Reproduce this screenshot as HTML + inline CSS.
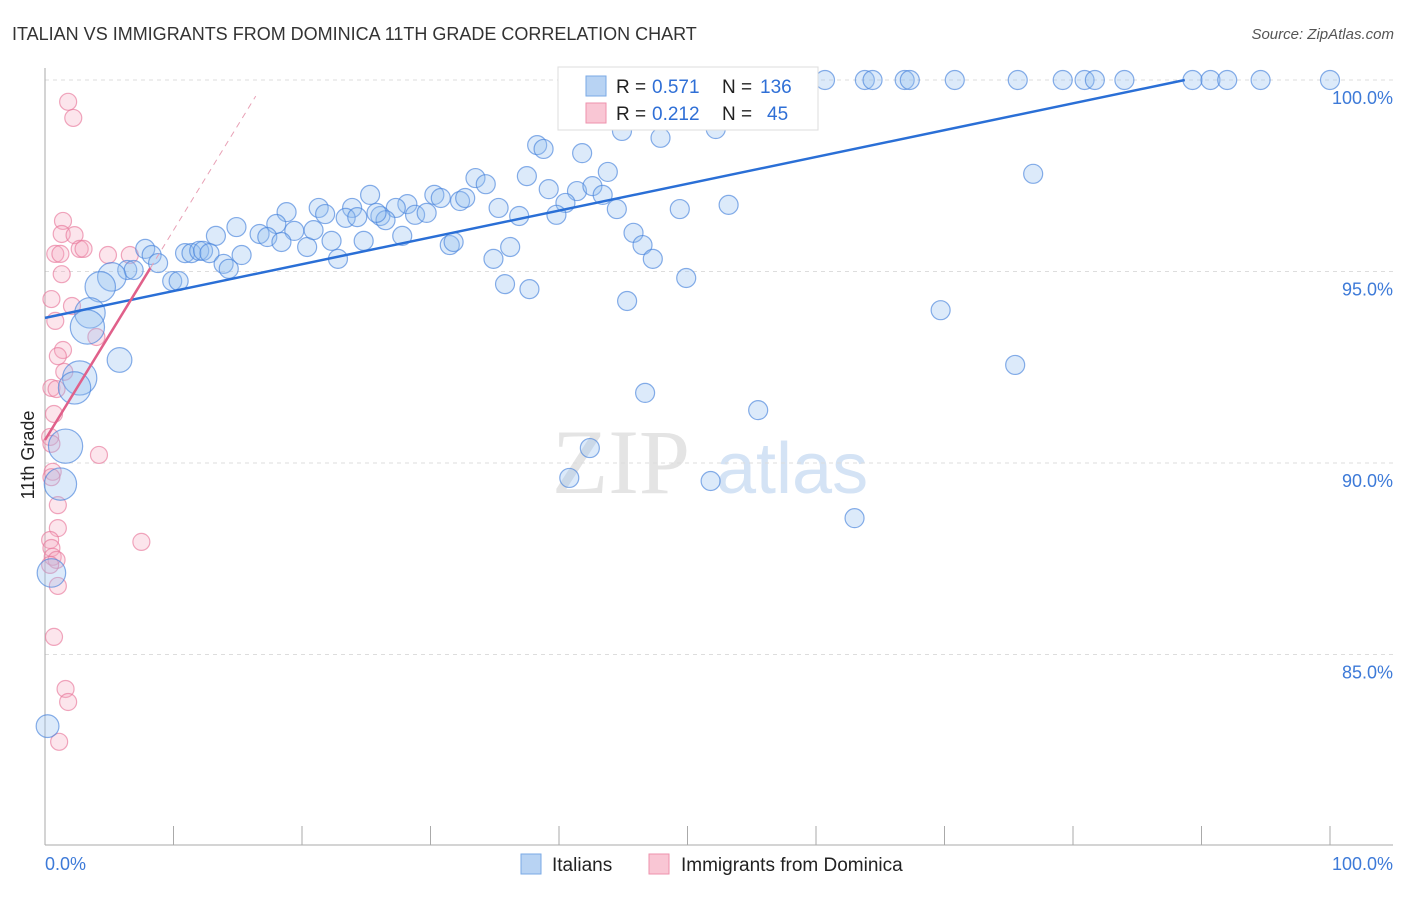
<!DOCTYPE html>
<html><head><meta charset="utf-8"><style>
body{margin:0;background:#fff;font-family:"Liberation Sans",sans-serif}
svg text{font-family:"Liberation Sans",sans-serif}
</style></head><body>
<svg width="1406" height="892" xmlns="http://www.w3.org/2000/svg">
<text x="12" y="40" font-size="18" fill="#333">ITALIAN VS IMMIGRANTS FROM DOMINICA 11TH GRADE CORRELATION CHART</text>
<text x="1394" y="39" font-size="15" fill="#555" font-style="italic" text-anchor="end">Source: ZipAtlas.com</text>
<text x="34" y="455" font-size="18" fill="#222" transform="rotate(-90 34 455)" text-anchor="middle">11th Grade</text>
<g>
<text x="552" y="493" font-size="92" fill="#e4e4e4" font-family="Liberation Serif" style="font-family:'Liberation Serif',serif">ZIP</text>
<text x="716" y="493" font-size="72" fill="#d4e3f5">atlas</text>
</g>
<g id="grid"></g>
<g id="axes"></g>
<g id="pink"></g>
<g id="blue"></g>
<g id="lines"></g>
<g>
<rect x="558" y="67" width="260" height="63" fill="#fff" stroke="#ddd"/>
<rect x="586" y="76" width="20" height="20" fill="#b8d3f3" stroke="#7aa9e6"/>
<rect x="586" y="103" width="20" height="20" fill="#f9c6d4" stroke="#ee92ad"/>
<text x="616" y="93" font-size="19" fill="#222">R =</text>
<text x="652" y="93" font-size="19" fill="#2f6fd6">0.571</text>
<text x="722" y="93" font-size="19" fill="#222">N =</text>
<text x="760" y="93" font-size="19" fill="#2f6fd6">136</text>
<text x="616" y="120" font-size="19" fill="#222">R =</text>
<text x="652" y="120" font-size="19" fill="#2f6fd6">0.212</text>
<text x="722" y="120" font-size="19" fill="#222">N =</text>
<text x="767" y="120" font-size="19" fill="#2f6fd6">45</text>
</g>
<g>
<rect x="521" y="854" width="20" height="20" fill="#b8d3f3" stroke="#7aa9e6"/>
<text x="552" y="871" font-size="19" fill="#222">Italians</text>
<rect x="649" y="854" width="20" height="20" fill="#f9c6d4" stroke="#ee92ad"/>
<text x="681" y="871" font-size="19" fill="#222">Immigrants from Dominica</text>
</g>
</svg>
<script>
const yTicks=[100,95,90,85];
const yTickLabels=["100.0%","95.0%","90.0%","85.0%"];
const xTickLabels=["0.0%","100.0%"];
const blueX=[51.0,53.3,55.6,56.8,58.8,60.7,63.8,64.4,66.9,67.3,70.8,75.7,79.2,80.9,81.7,84.0,89.3,90.7,92.0,94.6,100,
44.9,47.9,52.2,54.6,38.3,38.8,41.8,43.8,37.5,33.5,34.3,39.2,41.4,42.6,43.4,40.5,44.5,39.8,36.9,35.3,32.3,32.7,30.3,30.8,28.2,27.3,28.8,29.7,25.3,23.9,23.4,24.3,26.1,26.5,25.8,21.3,21.8,18.8,18.0,19.4,16.7,17.3,18.4,20.4,14.9,13.3,20.9,22.3,24.8,27.8,22.8,31.5,31.8,36.2,34.9,35.8,37.7,45.8,46.5,47.3,45.3,49.9,49.4,53.2,76.9,69.7,75.5,46.7,55.5,42.4,40.8,51.8,63.0,
7.8,8.3,8.8,10.9,11.4,12.0,12.3,12.8,13.9,14.3,15.3,9.9,10.4,6.4,6.9,5.2,4.3,3.5,3.3,5.8,2.7,2.3,1.6,1.2,0.5,0.2];
const blueY=[100,100,100,100,100,100,100,100,100,100,100,100,100,100,100,100,100,100,100,100,100,
98.67,98.49,98.72,98.96,98.30,98.20,98.09,97.60,97.49,97.44,97.28,97.15,97.10,97.23,97.00,96.79,96.63,96.48,96.45,96.66,96.84,96.92,97.00,96.92,96.76,96.66,96.48,96.53,97.00,96.66,96.40,96.42,96.45,96.34,96.53,96.66,96.50,96.55,96.24,96.06,95.98,95.90,95.77,95.64,96.16,95.93,96.08,95.80,95.80,95.93,95.33,95.69,95.77,95.64,95.33,94.67,94.54,96.01,95.69,95.33,94.23,94.83,96.63,96.74,97.55,93.99,92.56,91.83,91.38,90.39,89.61,89.53,88.56,
95.59,95.43,95.22,95.48,95.48,95.54,95.54,95.48,95.20,95.07,95.43,94.75,94.75,95.04,95.04,94.86,94.60,93.92,93.55,92.69,92.22,91.96,90.44,89.45,87.13,83.13];
const blueSize=[];
for(let i=0;i<blueX.length;i++)blueSize.push(1);
const bigBlue=[1.5,1.6,1.6,1.8,1.3,1.8,1.7,1.8,1.7,1.5,1.2];
const pinkX=[1.8,2.2,1.4,1.3,2.3,2.7,3.0,0.8,1.2,4.9,1.3,0.5,2.1,0.8,4.0,1.4,1.0,1.5,0.5,0.9,0.7,0.4,0.5,4.2,0.6,0.5,1.0,1.0,0.4,0.5,0.6,0.9,0.4,1.0,7.5,0.7,1.6,1.8,1.1,6.6];
const pinkY=[99.43,99.01,96.32,95.98,95.95,95.59,95.59,95.46,95.46,95.43,94.93,94.28,94.10,93.71,93.29,92.95,92.79,92.38,91.96,91.93,91.28,90.68,90.50,90.21,89.77,89.63,88.90,88.30,87.99,87.78,87.55,87.47,87.34,86.79,87.94,85.46,84.10,83.76,82.72,95.43];
const blueLine=[[0,93.79],[88.7,100]];
const pinkLine=[[0,90.6],[8.2,95.09]];
const pinkDash=[[8.2,95.09],[16.4,99.58]];

const sx=v=>45+v*12.85, sy=v=>80+(100-v)*38.3;
const NS="http://www.w3.org/2000/svg";
function mk(p,t,a){const e=document.createElementNS(NS,t);for(const k in a)e.setAttribute(k,a[k]);p.appendChild(e);return e;}
const grid=document.getElementById('grid'),axes=document.getElementById('axes');
yTicks.forEach((t,i)=>{
 const g=mk(grid,'line',{x1:45,x2:1393,y1:sy(t),y2:sy(t),stroke:'#ddd','stroke-dasharray':'4,4'});
 
 
 const l=mk(axes,'text',{x:1393,y:sy(t)+24,'font-size':18,fill:'#3d7ad8','text-anchor':'end'});
 l.textContent=yTickLabels[i];
 
 
});
mk(axes,'line',{x1:45,x2:45,y1:68,y2:845,stroke:'#aaa'});
mk(axes,'line',{x1:45,x2:1393,y1:845,y2:845,stroke:'#aaa'});
for(let i=0;i<=10;i++){mk(axes,'line',{x1:sx(i*10),x2:sx(i*10),y1:826,y2:845,stroke:'#aaa'});}
const xl0=mk(axes,'text',{x:45,y:870,'font-size':18,fill:'#3d7ad8'});xl0.textContent=xTickLabels[0];


const xl1=mk(axes,'text',{x:1393,y:870,'font-size':18,fill:'#3d7ad8','text-anchor':'end'});xl1.textContent=xTickLabels[1];


const pg=document.getElementById('pink');
pinkX.forEach((x,i)=>{const c=mk(pg,'circle',{cx:sx(x),cy:sy(pinkY[i]),r:8.5,fill:'rgba(246,170,192,0.3)',stroke:'rgba(232,120,155,0.65)','stroke-width':1.2});
 
 });
const bg=document.getElementById('blue');
const nb=blueX.length;
blueX.forEach((x,i)=>{let s=blueSize[i];const k=i-(nb-bigBlue.length);if(k>=0)s=bigBlue[k];
 const c=mk(bg,'circle',{cx:sx(x),cy:sy(blueY[i]),r:9.5*s,fill:'rgba(150,190,240,0.33)',stroke:'rgba(70,130,220,0.65)','stroke-width':1.2});
 
 });
const lg=document.getElementById('lines');
let l1=mk(lg,'line',{x1:sx(blueLine[0][0]),y1:sy(blueLine[0][1]),x2:sx(blueLine[1][0]),y2:sy(blueLine[1][1]),stroke:'#2a6fd6','stroke-width':2.5});


let l2=mk(lg,'line',{x1:sx(pinkLine[0][0]),y1:sy(pinkLine[0][1]),x2:sx(pinkLine[1][0]),y2:sy(pinkLine[1][1]),stroke:'#e0608a','stroke-width':2.5});


let l3=mk(lg,'line',{x1:sx(pinkDash[0][0]),y1:sy(pinkDash[0][1]),x2:sx(pinkDash[1][0]),y2:sy(pinkDash[1][1]),stroke:'#e8a0b5','stroke-width':1,'stroke-dasharray':'6,5'});


</script>
</body></html>
